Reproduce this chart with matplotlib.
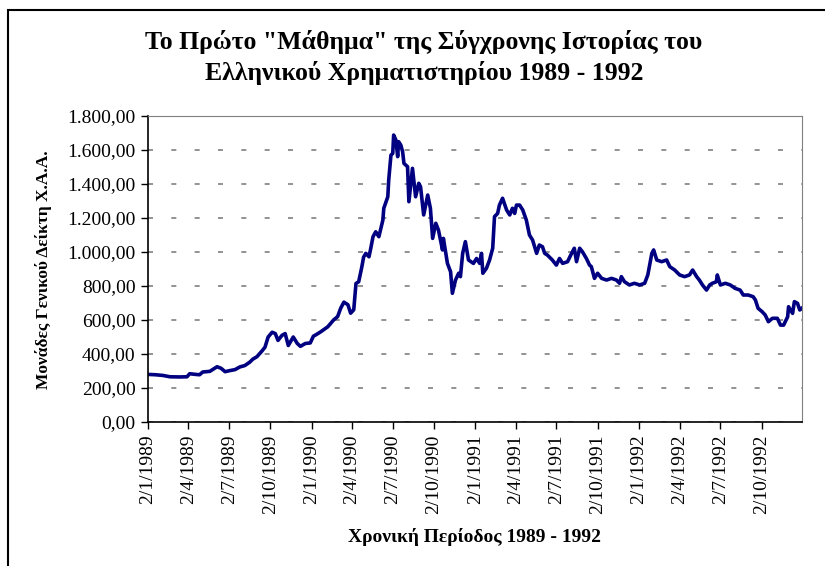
import matplotlib
matplotlib.use("Agg")
import matplotlib.pyplot as plt
import matplotlib.ticker as mticker
from matplotlib.patches import Rectangle
import pandas as pd

# index values (approximate)
dates_1989 = ["1989-01-02", "1989-01-18", "1989-02-04", "1989-02-20", "1989-03-14", "1989-03-30",
              "1989-04-05", "1989-04-18", "1989-04-27", "1989-05-04", "1989-05-20", "1989-06-05",
              "1989-06-14", "1989-06-23", "1989-07-03", "1989-07-15", "1989-07-26", "1989-08-06",
              "1989-08-17", "1989-08-24", "1989-09-02", "1989-09-14", "1989-09-20", "1989-09-27",
              "1989-10-06", "1989-10-13", "1989-10-19", "1989-10-28", "1989-11-04", "1989-11-11",
              "1989-11-22", "1989-12-01", "1989-12-08", "1989-12-19", "1989-12-30"]
values_1989 = [280, 278, 274, 266, 265, 266,
               284, 280, 278, 294, 298, 325,
               316, 296, 302, 308, 324, 332,
               352, 370, 384, 420, 440, 500,
               528, 520, 480, 510, 520, 450,
               500, 462, 445, 462, 465]

dates_1990 = ["1990-01-06", "1990-01-11", "1990-01-22", "1990-02-07", "1990-02-20", "1990-03-01",
              "1990-03-08", "1990-03-15", "1990-03-24", "1990-03-30", "1990-04-06", "1990-04-11",
              "1990-04-17", "1990-04-24", "1990-04-28", "1990-05-03", "1990-05-10", "1990-05-14",
              "1990-05-19", "1990-05-25", "1990-06-01", "1990-06-10", "1990-06-12", "1990-06-21",
              "1990-06-23", "1990-06-28", "1990-07-02", "1990-07-04", "1990-07-09", "1990-07-13",
              "1990-07-15", "1990-07-20", "1990-07-24", "1990-07-27", "1990-08-04", "1990-08-07",
              "1990-08-15", "1990-08-22", "1990-08-29", "1990-09-02", "1990-09-09", "1990-09-18",
              "1990-09-24", "1990-09-29", "1990-10-06", "1990-10-12", "1990-10-21", "1990-10-23",
              "1990-11-01", "1990-11-08", "1990-11-12", "1990-11-19", "1990-11-26", "1990-11-30",
              "1990-12-05", "1990-12-11", "1990-12-18", "1990-12-29"]
values_1990 = [505, 512, 530, 560, 600, 620,
               670, 705, 690, 640, 660, 815,
               825, 912, 970, 992, 972, 1022,
               1090, 1119, 1090, 1188, 1257, 1325,
               1423, 1570, 1580, 1688, 1659, 1561,
               1649, 1629, 1590, 1521, 1502, 1296,
               1492, 1325, 1404, 1384, 1218, 1335,
               1257, 1080, 1169, 1129, 1012, 1080,
               933, 884, 757, 835, 875, 855,
               992, 1061, 953, 933]

dates_1991 = ["1991-01-05", "1991-01-12", "1991-01-16", "1991-01-19", "1991-01-27", "1991-02-03",
              "1991-02-10", "1991-02-14", "1991-02-21", "1991-02-25", "1991-03-04", "1991-03-13",
              "1991-03-20", "1991-03-26", "1991-03-31", "1991-04-04", "1991-04-11", "1991-04-18",
              "1991-04-26", "1991-05-03", "1991-05-10", "1991-05-19", "1991-05-25", "1991-06-01",
              "1991-06-06", "1991-06-12", "1991-06-23", "1991-07-02", "1991-07-09", "1991-07-16",
              "1991-07-27", "1991-08-05", "1991-08-11", "1991-08-16", "1991-08-23", "1991-08-29",
              "1991-09-07", "1991-09-14", "1991-09-18", "1991-09-25", "1991-10-02", "1991-10-11",
              "1991-10-22", "1991-11-02", "1991-11-13", "1991-11-20", "1991-11-24", "1991-12-01",
              "1991-12-12", "1991-12-23"]
values_1991 = [962, 933, 992, 875, 904, 953,
               1022, 1208, 1227, 1276, 1316, 1247,
               1218, 1257, 1227, 1276, 1276, 1247,
               1188, 1100, 1070, 992, 1041, 1031,
               992, 982, 953, 923, 962, 933,
               943, 992, 1022, 943, 1022, 1002,
               962, 923, 914, 845, 875, 845,
               835, 845, 835, 816, 855, 825,
               806, 816]

dates_1992 = ["1992-01-04", "1992-01-15", "1992-01-22", "1992-01-31", "1992-02-04", "1992-02-11",
              "1992-02-22", "1992-03-04", "1992-03-11", "1992-03-22", "1992-04-02", "1992-04-13",
              "1992-04-24", "1992-05-01", "1992-05-10", "1992-05-16", "1992-05-23", "1992-06-01",
              "1992-06-08", "1992-06-14", "1992-06-23", "1992-06-25", "1992-07-02", "1992-07-13",
              "1992-07-24", "1992-08-04", "1992-08-15", "1992-08-22", "1992-09-02", "1992-09-13",
              "1992-09-18", "1992-09-24", "1992-10-03", "1992-10-10", "1992-10-17", "1992-10-26",
              "1992-11-06", "1992-11-13", "1992-11-20", "1992-11-29", "1992-12-01", "1992-12-10",
              "1992-12-14", "1992-12-21", "1992-12-26", "1992-12-31"]
values_1992 = [806, 816, 865, 992, 1012, 953,
               943, 953, 914, 894, 865, 855,
               865, 894, 855, 835, 806, 776,
               806, 816, 825, 865, 806, 816,
               806, 786, 776, 747, 747, 737,
               718, 669, 649, 629, 590, 610,
               610, 570, 570, 619, 678, 639,
               708, 698, 659, 670]

tick_labels = ["2/1/1989", "2/4/1989", "2/7/1989", "2/10/1989",
               "2/1/1990", "2/4/1990", "2/7/1990", "2/10/1990",
               "2/1/1991", "2/4/1991", "2/7/1991", "2/10/1991",
               "2/1/1992", "2/4/1992", "2/7/1992", "2/10/1992"]

dates = pd.to_datetime(dates_1989 + dates_1990 + dates_1991 + dates_1992)
values = values_1989 + values_1990 + values_1991 + values_1992
tick_dates = pd.to_datetime(tick_labels, format="%d/%m/%Y")

plt.rcParams['font.family'] = ["Liberation Serif", "DejaVu Serif"]

fig = plt.figure(figsize=(8.25, 5.66), dpi=100)
ax = fig.add_axes([148 / 825, 1 - 422 / 566, 654 / 825, 306 / 566])

ax.plot(dates, values, color="#000080", linewidth=2.6, solid_joinstyle="round")

ax.set_ylim(0, 1800)
ax.set_xlim(pd.Timestamp("1989-01-02"), pd.Timestamp("1992-12-31"))
ax.yaxis.set_major_locator(mticker.MultipleLocator(200))
ax.yaxis.set_major_formatter(mticker.FuncFormatter(
    lambda v, p: f"{v:,.2f}".replace(",", "X").replace(".", ",").replace("X", ".")))
ax.set_xticks(tick_dates)
ax.set_xticklabels(tick_labels, rotation=90)

ax.grid(axis="y", color="#808080", linestyle=(0, (3, 11)), linewidth=1.2)
ax.set_axisbelow(True)
ax.tick_params(axis="both", direction="out", length=5, width=1, colors="black")
ax.tick_params(axis="y", labelsize=14, pad=4)
ax.tick_params(axis="x", labelsize=14, pad=4)
for s in ("top", "right"):
    ax.spines[s].set_color("#808080")
for s in ("left", "bottom"):
    ax.spines[s].set_color("black")
    ax.spines[s].set_linewidth(1.2)

fig.text(44 / 825, 1 - 270 / 566, "Μονάδες Γενικού Δείκτη Χ.Α.Α.", rotation=90,
         ha="center", va="center", fontsize=12.5, fontweight="bold")
fig.text(474 / 825, 1 - 537 / 566, "Χρονική Περίοδος 1989 - 1992",
         ha="center", va="center", fontsize=14, fontweight="bold")

fig.text(424 / 825, 1 - 42 / 566, "Το Πρώτο \"Μάθημα\" της Σύγχρονης Ιστορίας του",
         ha="center", va="center", fontsize=18.5, fontweight="bold")
fig.text(424 / 825, 1 - 73 / 566, "Ελληνικού Χρηματιστηρίου 1989 - 1992",
         ha="center", va="center", fontsize=18.5, fontweight="bold")

fig.patches.append(Rectangle((8 / 825, -0.05), 1.1, 1 - 10 / 566 + 0.05,
                             transform=fig.transFigure, fill=False,
                             edgecolor="black", linewidth=1.5))

fig.savefig("out.png", dpi=100)
